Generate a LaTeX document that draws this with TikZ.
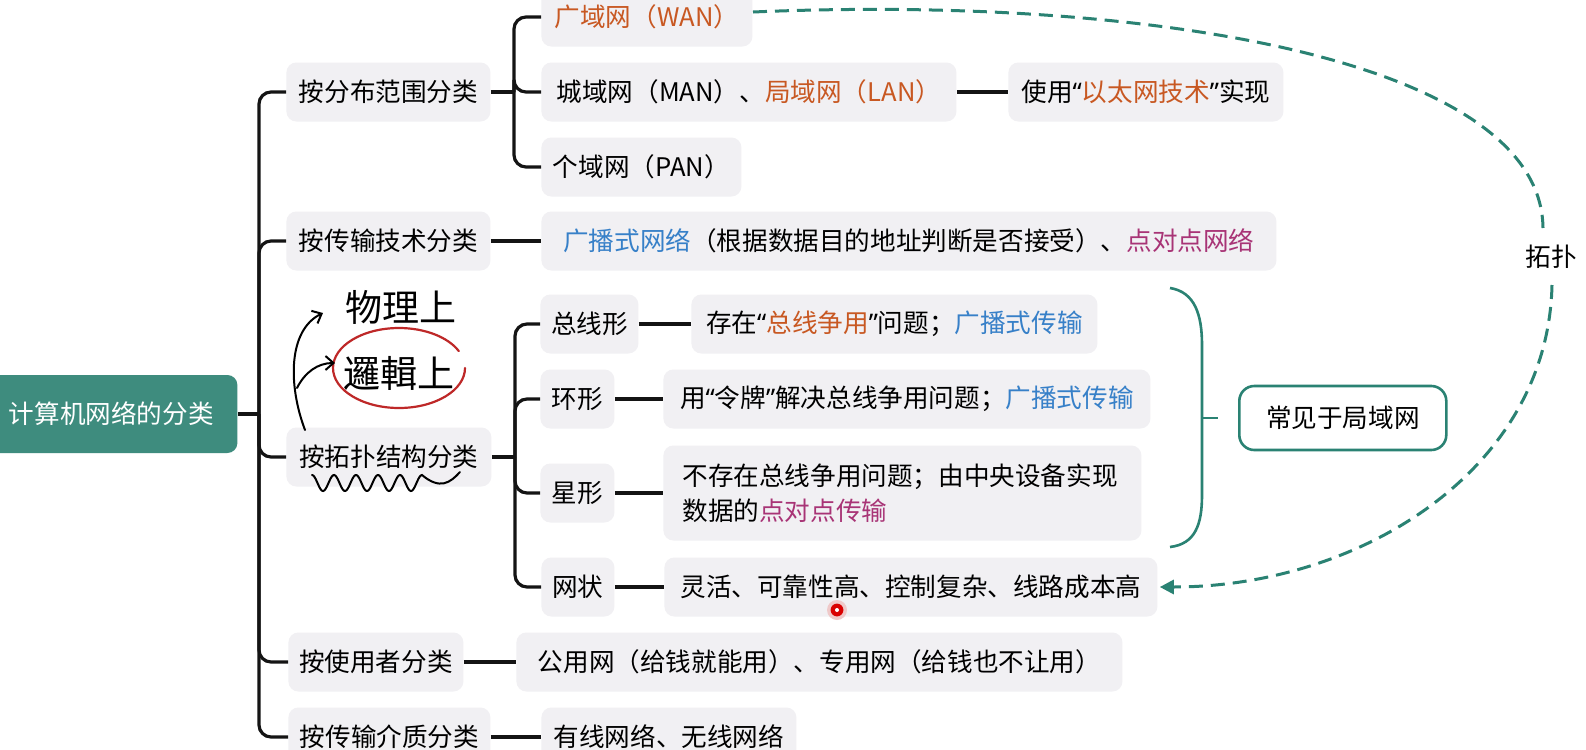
\documentclass[tikz,border=0pt]{standalone}
\usepackage{fontspec}
\setmainfont{Noto Sans CJK SC}
\newfontfamily\qfont{Noto Sans}
\usetikzlibrary{arrows.meta}
\definecolor{boxgray}{RGB}{241,240,243}
\definecolor{lineblack}{RGB}{20,20,20}
\definecolor{orng}{RGB}{200,88,34}
\definecolor{blu}{RGB}{55,128,200}
\definecolor{mag}{RGB}{168,52,118}
\definecolor{rootteal}{RGB}{62,140,126}
\definecolor{teal2}{RGB}{42,130,115}
\definecolor{penred}{RGB}{190,40,40}
\newcommand\fs{\fontsize{12.8pt}{17.5pt}\selectfont}
\newcommand\hw{\fontsize{18.5pt}{22pt}\selectfont}
\newcommand\OR[1]{\textcolor{orng}{#1}}
\newcommand\BL[1]{\textcolor{blu}{#1}}
\newcommand\MG[1]{\textcolor{mag}{#1}}
\newcommand\myLQ{{\qfont “}}
\newcommand\myRQ{{\qfont ”}}
\tikzset{
  box/.style={fill=boxgray, rounded corners=5pt, anchor=west, minimum height=29.5pt,
    inner xsep=5pt, inner ysep=0pt, font=\fs, text=black},
  rootbox/.style={fill=rootteal, rounded corners=5pt, anchor=west, font=\fs, text=white,
    inner sep=0pt},
  lanbox/.style={draw=teal2, line width=1.3pt, fill=white, rounded corners=7.5pt, anchor=west,
    minimum height=32pt, minimum width=103.5pt, font=\fs, inner sep=0pt},
  conn/.style={draw=lineblack, line width=1.6pt, rounded corners=6pt},
  dashconn/.style={draw=teal2, line width=1.5pt, dash pattern=on 7pt off 4pt},
  bracestyle/.style={draw=teal2, line width=1.3pt},
  pen/.style={draw=black, line width=1pt, line cap=round},
  redpen/.style={draw=penred, line width=1.1pt, line cap=round},
}
\begin{document}
\begin{tikzpicture}[x=0.5pt,y=-0.5pt]
\useasboundingbox (0,0) rectangle (1586,750);
\fill[white] (0,0) rectangle (1586,750);

% root
\node[rootbox, minimum width=126pt, minimum height=39pt] (root) at (-15,414) {计算机网络的分类};

% level 1
\node[box, minimum width=102pt] (a) at (286,92) {按分布范围分类};
\node[box, minimum width=102pt] (b) at (286,241) {按传输技术分类};
\node[box, minimum width=102.5pt] (c) at (286,457) {按拓扑结构分类};
\node[box, minimum width=87.5pt] (d) at (288,662) {按使用者分类};
\node[box, minimum width=101pt] (e) at (288,737) {按传输介质分类};

% level 2
\node[box, minimum width=105.5pt] (wan) at (541,17) {\OR{广域网（WAN）}};
\node[box, minimum width=207.5pt] (man) at (541,92) {城域网（MAN）、\OR{局域网（LAN）}};
\node[box, minimum width=100pt] (pan) at (541,167) {个域网（PAN）};
\node[box, minimum width=137.5pt] (eth) at (1008,92) {使用\myLQ\OR{以太网技术}\myRQ 实现};
\node[box, minimum width=367.5pt] (bcast) at (541,241) {\BL{广播式网络}（根据数据目的地址判断是否接受）、\MG{点对点网络}};

\node[box, minimum width=49pt] (bus) at (540,324) {总线形};
\node[box, minimum width=203pt] (busd) at (691,324) {存在\myLQ\OR{总线争用}\myRQ 问题；\BL{广播式传输}};
\node[box, minimum width=37pt] (ring) at (540,399) {环形};
\node[box, minimum width=243.5pt] (ringd) at (663,399) {用\myLQ 令牌\myRQ 解决总线争用问题；\BL{广播式传输}};
\node[box, minimum width=37pt] (star) at (540,493) {星形};
\node[box, minimum height=47.5pt, text width=220pt, inner xsep=9.5pt, align=left] (stard) at (663,493)
  {不存在总线争用问题；由中央设备实现\\数据的\MG{点对点传输}};
\node[box, minimum width=36.5pt] (mesh) at (541,587) {网状};
\node[box, minimum width=246.5pt] (meshd) at (664,587) {灵活、可靠性高、控制复杂、线路成本高};

\node[box, minimum width=303pt] (user) at (516,662) {公用网（给钱就能用）、专用网（给钱也不让用）};
\node[box, minimum width=127.5pt] (medium) at (541,737) {有线网络、无线网络};

\node[lanbox] (lan) at (1238,418) {常见于局域网};

% trunk connectors
\coordinate (t0) at (259,414);
\draw[conn] (root.east) -- (t0);
\foreach \n in {a,b,c,d,e} { \draw[conn] (t0) |- (\n.west); }

% level 2 connectors
\coordinate (ja) at (514,92);
\draw[conn] (a.east) -- (ja);
\foreach \n in {wan,man,pan} { \draw[conn] (ja) |- (\n.west); }
\draw[conn] (man.east) -- (eth.west);
\draw[conn] (b.east) -- (bcast.west);
\coordinate (jc) at (515,457);
\draw[conn] (c.east) -- (jc);
\foreach \n in {bus,ring,star,mesh} { \draw[conn] (jc) |- (\n.west); }
\draw[conn] (bus.east) -- (busd.west);
\draw[conn] (ring.east) -- (ringd.west);
\draw[conn] (star.east) -- (stard.west);
\draw[conn] (mesh.east) -- (meshd.west);
\draw[conn] (d.east) -- (user.west);
\draw[conn] (e.east) -- (medium.west);

% brace
\coordinate (bt) at (1170,288);
\coordinate (bb) at (1170,547);
\coordinate (bm) at (1202,418);
\coordinate (btick) at (1218,418);
\draw[bracestyle] (bt) .. controls (1195,292) and (1202,315) .. (1202,345) -- (1202,495)
  .. controls (1202,525) and (1195,544) .. (bb);
\draw[bracestyle] (bm) -- (btick);

% dashed topology arrow
\node[font=\fs, fill=white, inner sep=1pt] (tp) at (1551,257) {拓扑};
\coordinate (ws) at (753,12);
\coordinate (tpa) at (1543,228);
\coordinate (tpb) at (1552,285);
\draw[dashconn] (ws) .. controls (1150,-5) and (1541,60) .. (tpa);
\draw[dashconn, -{Triangle[length=7pt,width=7pt]}] (tpb) .. controls (1548,470) and (1360,587) .. ([xshift=1pt]meshd.east);

% handwritten annotations
\node[font=\hw, inner sep=0pt] (phys) at (401,307) {物理上};
\node[font=\hw, inner sep=0pt] (logi) at (399,373) {邏輯上};
\draw[redpen] (399,368) ++(0:66 and 40) arc[start angle=0, end angle=335, x radius=66, y radius=40];
\coordinate (h0) at (305,430);
\coordinate (h1) at (323,313);
\coordinate (h2) at (297,388);
\coordinate (h3) at (335,363);
\draw[pen, -{Straight Barb[length=4pt,width=7pt]}] (h0) .. controls (288,385) and (288,330) .. (h1);
\draw[pen, -{Straight Barb[length=4pt,width=7pt]}] (h2) .. controls (305,372) and (318,363) .. (h3);
\draw[pen] plot[domain=0:5, samples=90, smooth] ({312+22*\x}, {483-8*cos(\x*360)})
  .. controls (440,490) and (450,483) .. (460,472);

% laser pointer dot
\fill[penred!25] (837,610) circle (5pt);
\fill[red!85!black] (837,610) circle (3.2pt);
\fill[white] (837,610) circle (1pt);
\end{tikzpicture}
\end{document}
